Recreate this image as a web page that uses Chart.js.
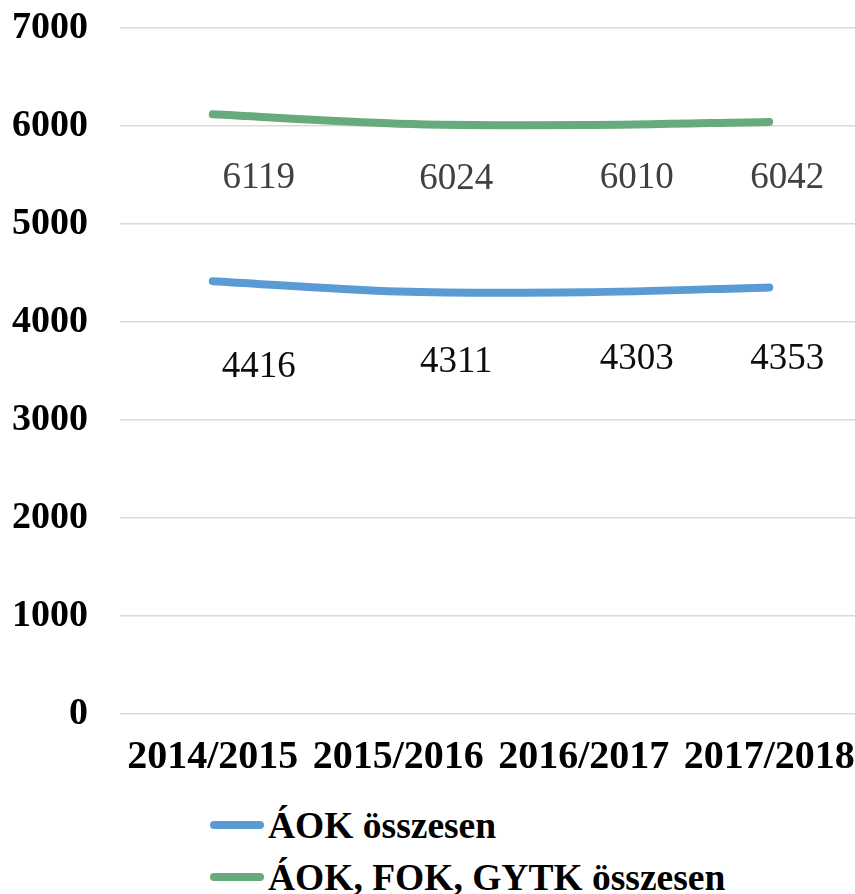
<!DOCTYPE html>
<html lang="hu">
<head>
<meta charset="UTF-8"/>
<title>ÁOK / FOK / GYTK összesen</title>
<script src="https://cdn.jsdelivr.net/npm/chart.js@4.4.7/dist/chart.umd.min.js"></script>
<style>
*{box-sizing:border-box;margin:0;padding:0}
body{background:#fff;width:855px;height:894px;overflow:hidden;font-family:'Liberation Serif','Times New Roman',serif}
.wrap{position:relative;width:862px;height:790px}
.legend{padding-left:210px;padding-top:9px;font-weight:700;font-size:37.5px;color:#000}
.legend .row{display:flex;align-items:center;height:52px}
.legend .sw{width:54px;height:8px;border-radius:4px;margin-right:4px}
</style>
</head>
<body>
<div class="wrap"><canvas id="chart"></canvas></div>
<div class="legend" id="legend"></div>
<script>
const years      = ['2014/2015', '2015/2016', '2016/2017', '2017/2018'];
const aokTotal   = [4416, 4311, 4303, 4353];
const allTotal   = [6119, 6024, 6010, 6042];
const yTicks     = [0, 1000, 2000, 3000, 4000, 5000, 6000, 7000];

const BLUE  = '#5B9BD5';
const GREEN = '#67AB7C';

// Excel-style label placement: below and a bit right of each point
const labelDx = [46, 58, 53, 18];
const labelDy = [[86, 71, 67, 72], [64, 56, 53, 56]];
const labelColor = ['#0d0d0d', '#404040'];

const dataLabels = {
  id: 'dataLabels',
  afterDatasetsDraw(chart) {
    const ctx = chart.ctx;
    ctx.save();
    ctx.font = '37px "Liberation Serif", serif';
    ctx.textAlign = 'center';
    ctx.textBaseline = 'middle';
    chart.data.datasets.forEach((ds, di) => {
      ctx.fillStyle = labelColor[di];
      chart.getDatasetMeta(di).data.forEach((pt, i) => {
        ctx.fillText(String(ds.data[i]), pt.x + labelDx[i], pt.y + labelDy[di][i]);
      });
    });
    ctx.restore();
  }
};

// let layout.padding alone decide the plot edges
const noEdgePadding = (scale) => {
  scale.paddingLeft = 0; scale.paddingRight = 0;
  scale.paddingTop = 0; scale.paddingBottom = 0;
};

const chart = new Chart(document.getElementById('chart'), {
  type: 'line',
  data: {
    labels: years,
    datasets: [
      { label: 'ÁOK összesen', data: aokTotal, borderColor: BLUE, backgroundColor: BLUE },
      { label: 'ÁOK, FOK, GYTK összesen', data: allTotal, borderColor: GREEN, backgroundColor: GREEN },
    ]
  },
  options: {
    responsive: true,
    maintainAspectRatio: false,
    animation: false,
    // axes reserve twice the tick padding, so pull the edges back in
    layout: { autoPadding: false, padding: { left: -20, right: 0, top: 28, bottom: -12 } },
    elements: {
      line: { borderWidth: 8, tension: 0.3, borderCapStyle: 'round', borderJoinStyle: 'round' },
      point: { radius: 0, hoverRadius: 0 }
    },
    plugins: { legend: { display: false }, tooltip: { enabled: false } },
    scales: {
      x: {
        offset: true,
        afterFit: noEdgePadding,
        grid: { display: false, drawTicks: false },
        border: { display: false },
        ticks: { color: '#000', padding: 20, maxRotation: 0, autoSkip: false, font: { family: 'Liberation Serif', size: 40, weight: 'bold' } }
      },
      y: {
        min: 0, max: 7000,
        afterFit: noEdgePadding,
        afterBuildTicks: (axis) => { axis.ticks = yTicks.map((v) => ({ value: v })); },
        grid: { color: '#d9d9d9', lineWidth: 1.5, drawTicks: false },
        border: { display: false },
        ticks: { color: '#000', padding: 32, font: { family: 'Liberation Serif', size: 38, weight: 'bold' }, callback: (v) => String(v) }
      }
    }
  },
  plugins: [dataLabels]
});

document.getElementById('legend').innerHTML = chart.data.datasets.map((ds) =>
  `<div class="row"><span class="sw" style="background:${ds.borderColor}"></span>${ds.label}</div>`
).join('');
</script>
</body>
</html>
